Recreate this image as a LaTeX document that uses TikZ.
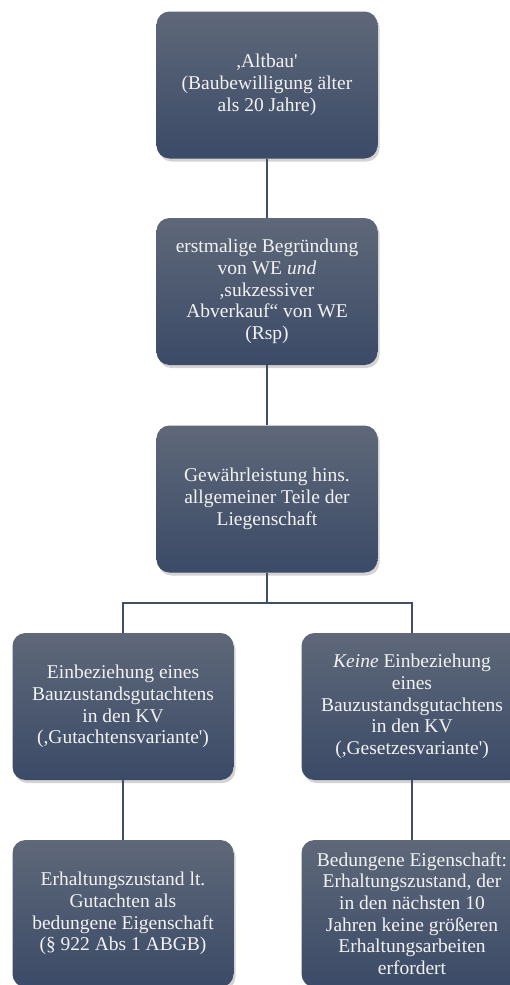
\documentclass[tikz,border=0pt]{standalone}
\usepackage{fontspec}
\setmainfont{Liberation Serif}
\usetikzlibrary{shadows}
\definecolor{boxtop}{HTML}{5E6879}
\definecolor{boxbot}{HTML}{3B4A67}
\definecolor{linecol}{HTML}{414E68}
\definecolor{txtcol}{HTML}{F2F2F2}
\newcommand{\sq}{\textquotesingle}
\tikzset{
  box/.style={rectangle, rounded corners=13pt, minimum width=221pt, minimum height=147pt,
    top color=boxtop, bottom color=boxbot, draw=none,
    drop shadow={shadow xshift=2pt, shadow yshift=-3pt, opacity=0.35},
    text=txtcol, align=center, inner sep=0pt,
    font=\fontsize{19.5}{21.7}\selectfont},
  conn/.style={draw=linecol, line width=2pt}
}
\begin{document}
\begin{tikzpicture}[x=1pt,y=1pt]
\useasboundingbox (0,0) rectangle (510,-985);
\clip (0,0) rectangle (510,-985);
\node[box] (b1) at (267,-85) {,Altbau\sq\\(Baubewilligung älter\\als 20 Jahre)};
\node[box] (b2) at (267,-291.5) {erstmalige Begründung\\von WE \textit{und}\\,sukzessiver\\Abverkauf“ von WE\\(Rsp)};
\node[box] (b3) at (267,-499) {Gewährleistung hins.\\allgemeiner Teile der\\Liegenschaft};
\node[box] (b4) at (123,-706.5) {Einbeziehung eines\\Bauzustandsgutachtens\\in den KV\\(,Gutachtensvariante\sq)};
\node[box] (b5) at (412,-706.5) {\textit{Keine} Einbeziehung\\eines\\Bauzustandsgutachtens\\in den KV\\(,Gesetzesvariante\sq)};
\node[box] (b6) at (123,-913.5) {Erhaltungszustand lt.\\Gutachten als\\bedungene Eigenschaft\\(§ 922 Abs 1 ABGB)};
\node[box] (b7) at (412,-913.5) {Bedungene Eigenschaft:\\Erhaltungszustand, der\\in den nächsten 10\\Jahren keine größeren\\Erhaltungsarbeiten\\erfordert};
\coordinate (hy) at (267,-603);
\draw[conn] (b1.south) -- (b2.north);
\draw[conn] (b2.south) -- (b3.north);
\draw[conn] (b3.south) -- (hy);
\draw[conn] (b4.north) |- (hy) -| (b5.north);
\draw[conn] (b4.south) -- (b6.north);
\draw[conn] (b5.south) -- (b7.north);
\end{tikzpicture}
\end{document}
